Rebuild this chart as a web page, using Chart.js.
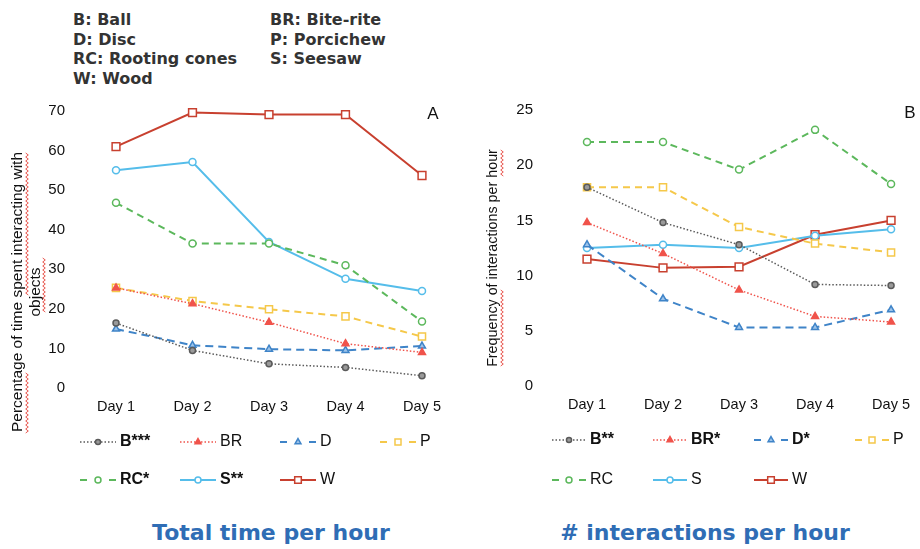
<!DOCTYPE html>
<html>
<head>
<meta charset="utf-8">
<script src="https://cdn.jsdelivr.net/npm/chart.js@4/dist/chart.umd.min.js"></script>
<style>
  body { margin: 0; background: #fff; }
  #page { position: relative; width: 920px; height: 549px; overflow: hidden; background: #fff; }
  .key { position: absolute; top: 10px; font: bold 16px 'DejaVu Sans', Verdana, sans-serif; color: #333; line-height: 19.5px; white-space: nowrap; }
  .panel { position: absolute; top: 90px; }
  .letter { position: absolute; width: 20px; text-align: center; font: 17px 'Liberation Sans', Arial, sans-serif; color: #111; line-height: 20px; }
  .heading { position: absolute; top: 520px; width: 460px; text-align: center; font: bold 22px 'DejaVu Sans', Verdana, sans-serif; color: #2f6db5; line-height: 26px; }
</style>
</head>
<body>
<div id="page">
  <div class="key" style="left:73px">B: Ball<br>D: Disc<br>RC: Rooting cones<br>W: Wood</div>
  <div class="key" style="left:270px">BR: Bite-rite<br>P: Porcichew<br>S: Seesaw</div>

  <canvas id="timeChart" class="panel" style="left:0" width="460" height="410"></canvas>
  <canvas id="countChart" class="panel" style="left:460px" width="460" height="410"></canvas>

  <div class="letter" style="left:423px;top:104px">A</div>
  <div class="letter" style="left:900px;top:103px">B</div>

  <div class="heading" style="left:41px">Total time per hour</div>
  <div class="heading" style="left:475px"># interactions per hour</div>
</div>

<script>
const days = ['Day 1', 'Day 2', 'Day 3', 'Day 4', 'Day 5']
const codes = ['B', 'BR', 'D', 'P', 'RC', 'S', 'W']

// panel A: % of time spent interacting
const timeB  = [16.4, 9.5, 6.1, 5.2, 3.1]
const timeBR = [25.3, 21.3, 16.6, 11.2, 9.0]
const timeD  = [14.9, 10.8, 9.8, 9.5, 10.6]
const timeP  = [25.3, 22.0, 19.9, 18.1, 13.0]
const timeRC = [46.8, 36.5, 36.5, 31.0, 16.8]
const timeS  = [55.0, 57.1, 36.9, 27.6, 24.5]
const timeW  = [61.0, 69.6, 69.1, 69.1, 53.7]
const timeStars = ['***', '', '', '', '*', '**', '']
const timeTicks = [0, 10, 20, 30, 40, 50, 60, 70]

// panel B: interactions per hour
const countB  = [18.0, 14.8, 12.8, 9.2, 9.1]
const countBR = [14.8, 12.0, 8.7, 6.3, 5.8]
const countD  = [12.8, 7.9, 5.3, 5.3, 6.9]
const countP  = [18.0, 18.0, 14.4, 12.9, 12.1]
const countRC = [22.1, 22.1, 19.6, 23.2, 18.3]
const countS  = [12.5, 12.8, 12.5, 13.6, 14.2]
const countW  = [11.5, 10.7, 10.8, 13.7, 15.0]
const countStars = ['**', '*', '*', '', '', '', '']
const countTicks = [0, 5, 10, 15, 20, 25]

const styles = {
  B:  { color: '#5a5a5a', dash: [1.5, 2], width: 1.5, point: 'circle', radius: 3, fill: '#9a9a9a' },
  BR: { color: '#f0534b', dash: [1.5, 2], width: 1.5, point: 'triangle', radius: 4, fill: '#f0534b' },
  D:  { color: '#3f84c8', dash: [8, 5], width: 2, point: 'triangle', radius: 4, fill: '#9cc3ea' },
  P:  { color: '#f5c84a', dash: [7, 5], width: 2, point: 'rect', radius: 5, fill: '#fff' },
  RC: { color: '#5cb85c', dash: [7, 5], width: 2, point: 'circle', radius: 3.5, fill: '#fff' },
  S:  { color: '#55bdea', dash: [], width: 2, point: 'circle', radius: 3.5, fill: '#fff' },
  W:  { color: '#c8402f', dash: [], width: 2, point: 'rect', radius: 5.5, fill: '#fff' }
}

const fontFamily = "'Liberation Sans', Arial, sans-serif"

function buildDatasets(series, stars) {
  return codes.map((code, i) => {
    const s = styles[code]
    return {
      label: code + stars[i],
      keyBold: stars[i] !== '',
      data: series[i],
      borderColor: s.color,
      borderWidth: s.width,
      borderDash: s.dash,
      pointStyle: s.point,
      pointRadius: s.radius,
      pointHoverRadius: s.radius,
      pointBackgroundColor: s.fill,
      pointBorderColor: s.color,
      pointBorderWidth: 1.5,
      tension: 0,
      clip: false
    }
  })
}

function squiggle(ctx, x, y1, y2) {
  ctx.beginPath()
  let k = 0
  for (let y = y1; y <= y2; y += 2, k++) {
    const xx = x + (k % 2 ? 1.3 : -1.3)
    if (k === 0) ctx.moveTo(xx, y)
    else ctx.lineTo(xx, y)
  }
  ctx.stroke()
}

const extras = {
  id: 'extras',
  afterDraw(chart, args, opts) {
    const ctx = chart.ctx
    ctx.save()

    // rotated axis title
    ctx.fillStyle = '#111'
    ctx.textAlign = 'center'
    ctx.textBaseline = 'middle'
    ctx.font = opts.titleSize + 'px ' + fontFamily
    opts.titleLines.forEach(l => {
      ctx.save()
      ctx.translate(l.x, opts.titleY)
      ctx.rotate(-Math.PI / 2)
      ctx.fillText(l.text, 0, 0)
      ctx.restore()
    })
    ctx.strokeStyle = '#e8574f'
    ctx.lineWidth = 1
    opts.squiggles.forEach(q => squiggle(ctx, q[0], q[1], q[2]))

    // key below the plot
    ctx.textAlign = 'left'
    chart.data.datasets.forEach((ds, i) => {
      const x = opts.keyX + (i % 4) * opts.keyDx
      const y = opts.keyRows[Math.floor(i / 4)]
      const w = opts.keySample
      ctx.strokeStyle = ds.borderColor
      ctx.lineWidth = ds.borderWidth
      ctx.setLineDash(ds.borderDash)
      ctx.beginPath()
      if (ds.borderDash.length && ds.borderDash[0] > 3) {
        ctx.moveTo(x, y); ctx.lineTo(x + 7, y)
        ctx.moveTo(x + w - 7, y); ctx.lineTo(x + w, y)
      } else {
        ctx.moveTo(x, y); ctx.lineTo(x + w, y)
      }
      ctx.stroke()
      ctx.setLineDash([])
      ctx.fillStyle = ds.pointBackgroundColor
      ctx.strokeStyle = ds.pointBorderColor
      ctx.lineWidth = ds.pointBorderWidth
      Chart.helpers.drawPoint(ctx, { pointStyle: ds.pointStyle, radius: ds.pointRadius * 0.85, rotation: 0, borderWidth: ds.pointBorderWidth }, x + w / 2, y)
      ctx.fillStyle = '#111'
      ctx.font = (ds.keyBold ? 'bold ' : '') + '16px ' + fontFamily
      ctx.fillText(ds.label, x + w + 4, y)
    })
    ctx.restore()
  }
}

function makeChart(id, datasets, ticks, area, extraOpts) {
  const ctx = document.getElementById(id).getContext('2d')
  return new Chart(ctx, {
    type: 'line',
    data: { labels: days, datasets },
    options: {
      responsive: false,
      animation: false,
      events: [],
      layout: { padding: { left: 0, right: area.right, top: area.top, bottom: area.bottom } },
      plugins: { legend: { display: false }, tooltip: { enabled: false }, extras: extraOpts },
      scales: {
        x: {
          offset: false,
          grid: { display: false, drawTicks: false },
          border: { display: false },
          ticks: { color: '#111', font: { family: fontFamily, size: 14.5 }, padding: 10, maxRotation: 0 },
          afterFit: s => { s.height = 30 }
        },
        y: {
          min: ticks[0],
          max: ticks[ticks.length - 1],
          afterBuildTicks: s => { s.ticks = ticks.map(v => ({ value: v })) },
          grid: { display: false, drawTicks: false },
          border: { display: false },
          ticks: { color: '#111', font: { family: fontFamily, size: 15 }, padding: area.tickPad },
          afterFit: s => {
            s.width = area.left
            s.paddingTop = 8
            s.paddingBottom = 8
          }
        }
      }
    },
    plugins: [extras]
  })
}

makeChart('timeChart',
  buildDatasets([timeB, timeBR, timeD, timeP, timeRC, timeS, timeW], timeStars),
  timeTicks,
  { left: 116, right: 38, top: 21, bottom: 82, tickPad: 51 },
  {
    titleSize: 15.5,
    titleY: 202,
    titleLines: [
      { text: 'Percentage of time spent interacting with', x: 18 },
      { text: 'objects', x: 36 }
    ],
    squiggles: [[27, 63, 205], [27, 283, 343], [44, 168, 223]],
    keyX: 80, keyDx: 100, keySample: 36, keyRows: [352, 390]
  })

makeChart('countChart',
  buildDatasets([countB, countBR, countD, countP, countRC, countS, countW], countStars),
  countTicks,
  { left: 127, right: 22, top: 20, bottom: 84, tickPad: 54 },
  {
    titleSize: 14.3,
    titleY: 168,
    titleLines: [
      { text: 'Frequency of interactions per hour', x: 33 }
    ],
    squiggles: [[42, 200, 277], [42, 60, 87]],
    keyX: 92, keyDx: 101, keySample: 34, keyRows: [350, 390]
  })
</script>
</body>
</html>
